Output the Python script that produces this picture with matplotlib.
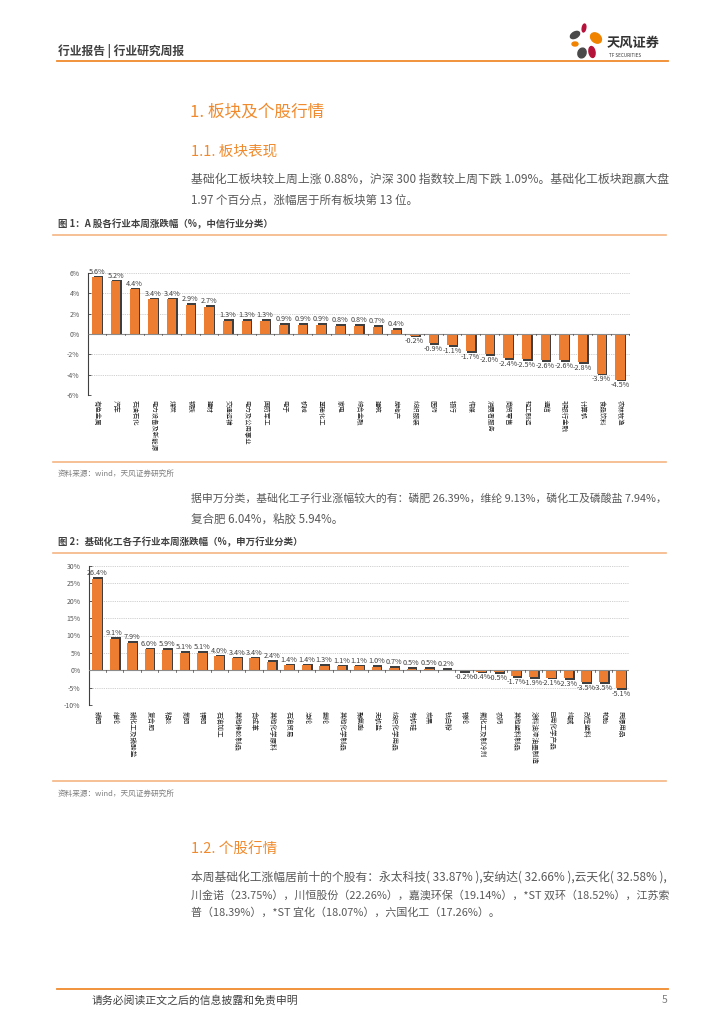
import numpy as np
import matplotlib
matplotlib.use("Agg")
import matplotlib.pyplot as plt
from matplotlib.patches import Ellipse

plt.rcParams['font.family'] = ['Noto Sans CJK SC', 'DejaVu Sans']

# 图1：中信行业本周涨跌幅
ind_names = ['有色金属', '汽车', '石油石化', '电力设备及新能源', '煤炭', '钢铁', '建材',
             '交通运输', '电力及公用事业', '国防军工', '电子', '机械', '基础化工', '家电',
             '综合金融', '建筑', '房地产', '纺织服装', '医药', '银行', '传媒', '消费者服务',
             '商贸零售', '轻工制造', '通信', '非银行金融', '计算机', '食品饮料', '农林牧渔']
ind_chg = [5.6, 5.2, 4.4, 3.4, 3.4, 2.9, 2.7, 1.3, 1.3, 1.3, 0.9, 0.9, 0.9, 0.8,
           0.8, 0.7, 0.4, -0.2, -0.9, -1.1, -1.7, -2.0, -2.4, -2.5, -2.6, -2.6, -2.8,
           -3.9, -4.5]
ind_ticks = [6, 4, 2, 0, -2, -4, -6]

# 图2：申万化工子行业本周涨跌幅
sub_names = ['磷肥', '维纶', '磷化工及磷酸盐', '复合肥', '粘胶', '氮肥', '钾肥', '石油加工',
             '其他橡胶制品', '合成革', '其他化学原料', '石油贸易', '涤纶', '氨纶', '其他化学制品',
             '聚氨酯', '无机盐', '纺织化学用品', '有机硅', '炭黑', '钛白粉', '锦纶',
             '氟化工及制冷剂', '农药', '其他塑料制品', '涂料油漆油墨制造', '日用化学产品',
             '纯碱', '改性塑料', '轮胎', '民爆用品']
sub_chg = [26.4, 9.1, 7.9, 6.0, 5.9, 5.1, 5.1, 4.0, 3.4, 3.4, 2.4, 1.4, 1.4, 1.3, 1.1,
           1.1, 1.0, 0.7, 0.5, 0.5, 0.2, -0.2, -0.4, -0.5, -1.7, -1.9, -2.1, -2.3,
           -3.5, -3.5, -5.1]
sub_ticks = [30, 25, 20, 15, 10, 5, 0, -5, -10]

ORANGE = '#ED7D31'
HEAD = '#F08A2C'
GREY = '#595959'

W, H = 724, 1024
fig = plt.figure(figsize=(W / 100, H / 100), dpi=100)
bg = fig.add_axes([0, 0, 1, 1])
bg.set_xlim(0, W)
bg.set_ylim(H, 0)
bg.axis('off')
renderer = fig.canvas.get_renderer()


def rect(x0, y0, x1, y1):
    return [x0 / W, 1 - y1 / H, (x1 - x0) / W, (y1 - y0) / H]


def line(x, y, s, fs=8.3, end=None):
    # 正文一行；给了 end 时按行宽微调字号，模拟两端对齐
    t = bg.text(x, y, s, fontsize=fs, color=GREY, va='center')
    if end is not None:
        w = t.get_window_extent(renderer).width
        t.set_fontsize(fs * (end - x) / w)
    return t


def bar_chart(pos, names, vals, ticks, lim, xpad, width, lab_fs, name_fs):
    ax = fig.add_axes(rect(*pos))
    n = len(vals)
    x = np.arange(n)
    span = lim[1] - lim[0]
    sh = [v + (0.012 if v > 0 else -0.012) * span for v in vals]
    ax.bar(x + 0.07, sh, width, color='#3f3f3f', zorder=2)
    ax.bar(x, vals, width, color=ORANGE, zorder=3)
    ax.set_xlim(-xpad[0], n - 1 + xpad[1])
    ax.set_ylim(lim)
    ax.set_yticks(ticks)
    ax.set_yticklabels([f'{t}%' for t in ticks], fontsize=5, color=GREY)
    ax.tick_params(axis='y', length=2, width=0.6, direction='in', pad=6, colors='#404040')
    ax.tick_params(axis='y', labelcolor=GREY)
    ax.set_xticks([])
    for t in ticks:
        if t != 0:
            ax.axhline(t, color='#BFBFBF', lw=0.6, ls=(0, (1, 1.2)), zorder=1)
    ax.axhline(0, color='#8C8C8C', lw=0.8, zorder=4)
    for b in np.arange(n + 1) - 0.5:
        ax.plot([b, b], [0, -0.012 * span], color='#404040', lw=0.5, zorder=4)
    for s in ['top', 'right', 'bottom']:
        ax.spines[s].set_visible(False)
    ax.spines['left'].set_color('#404040')
    ax.spines['left'].set_linewidth(0.8)
    off = 0.012 * span
    for xi, v in zip(x, vals):
        if v >= 0:
            ax.text(xi, v + off, f'{v:.1f}%', ha='center', va='bottom', fontsize=lab_fs,
                    color='#404040', zorder=5)
        else:
            ax.text(xi, v - off, f'{v:.1f}%', ha='center', va='top', fontsize=lab_fs,
                    color='#404040', zorder=5)
    for xi, nm in zip(x, names):
        ax.text(xi, -0.04, nm, rotation=270, ha='center', va='top', fontsize=name_fs,
                color='#262626', transform=ax.get_xaxis_transform())
    return ax


# 页眉
bg.text(58, 51, '行业报告 | 行业研究周报', fontsize=8.5, color='#404040', va='center',
        fontweight='bold')
bg.plot([57, 668], [61, 61], color='#F08A2C', lw=1.3)
for (cx, cy, w, h, ang, c) in [(584, 28, 3.5, 8, 10, '#B5123A'),
                              (575, 35, 10, 6, -30, '#4A4A4A'),
                              (596, 38, 12, 9, 40, '#F08300'),
                              (575, 44, 6, 4, 0, '#F08300'),
                              (582, 53, 8, 10, 20, '#4A4A4A'),
                              (592, 52, 6, 11, -10, '#B5123A')]:
    bg.add_patch(Ellipse((cx, cy), w, h, angle=ang, color=c))
bg.text(607, 43, '天风证券', fontsize=9.5, color='#333333', va='center', fontweight='bold')
bg.text(609, 55.5, 'TF SECURITIES', fontsize=3.3, color='#333333', va='center')

# 标题与正文
bg.text(190, 112, '1. 板块及个股行情', fontsize=12, color=HEAD, va='center')
bg.text(191, 152, '1.1. 板块表现', fontsize=10.5, color=HEAD, va='center')
line(191, 179, '基础化工板块较上周上涨 0.88%，沪深 300 指数较上周下跌 1.09%。基础化工板块跑赢大盘',
     end=668)
line(191, 200, '1.97 个百分点，涨幅居于所有板块第 13 位。')

bg.text(58, 224, '图 1：A 股各行业本周涨跌幅（%，中信行业分类）', fontsize=6.8, color='#404040',
        va='center', fontweight='bold')
bg.plot([53, 666], [235, 235], color='#F5B583', lw=1.2)

bar_chart((88, 273, 630, 395), ind_names, ind_chg, ind_ticks, (-6, 6), (0.48, 0.53),
          0.5, 5.2, 4.6)

bg.plot([53, 666], [462, 462], color='#F5B583', lw=1.2)
bg.text(58, 474, '资料来源：wind，天风证券研究所', fontsize=5.5, color='#7F7F7F', va='center')

line(191, 498, '据申万分类，基础化工子行业涨幅较大的有：磷肥 26.39%，维纶 9.13%，磷化工及磷酸盐 7.94%，',
     end=666)
line(191, 519, '复合肥 6.04%，粘胶 5.94%。')

bg.text(58, 542, '图 2：基础化工各子行业本周涨跌幅（%，申万行业分类）', fontsize=6.8, color='#404040',
        va='center', fontweight='bold')
bg.plot([53, 666], [553, 553], color='#F5B583', lw=1.2)

bar_chart((89, 566, 629, 705), sub_names, sub_chg, sub_ticks, (-10, 30), (0.46, 0.46),
          0.55, 5.2, 4.8)

bg.plot([53, 666], [781, 781], color='#F5B583', lw=1.2)
bg.text(58, 794, '资料来源：wind，天风证券研究所', fontsize=5.5, color='#7F7F7F', va='center')

bg.text(191, 850, '1.2. 个股行情', fontsize=10.5, color=HEAD, va='center')
line(191, 877, '本周基础化工涨幅居前十的个股有：永太科技( 33.87% ),安纳达( 32.66% ),云天化( 32.58% ),',
     end=668)
line(191, 895, '川金诺（23.75%），川恒股份（22.26%），嘉澳环保（19.14%），*ST 双环（18.52%），江苏索',
     end=668)
line(191, 913, '普（18.39%），*ST 宜化（18.07%），六国化工（17.26%）。', fs=7.9)

# 页脚
bg.plot([57, 668], [989, 989], color='#F08A2C', lw=1.3)
bg.text(92, 1000, '请务必阅读正文之后的信息披露和免责申明', fontsize=7.8, color='#404040', va='center')
bg.text(667, 1000, '5', fontsize=7.5, color='#7F7F7F', va='center', ha='right')

fig.savefig('out.png', dpi=100)
